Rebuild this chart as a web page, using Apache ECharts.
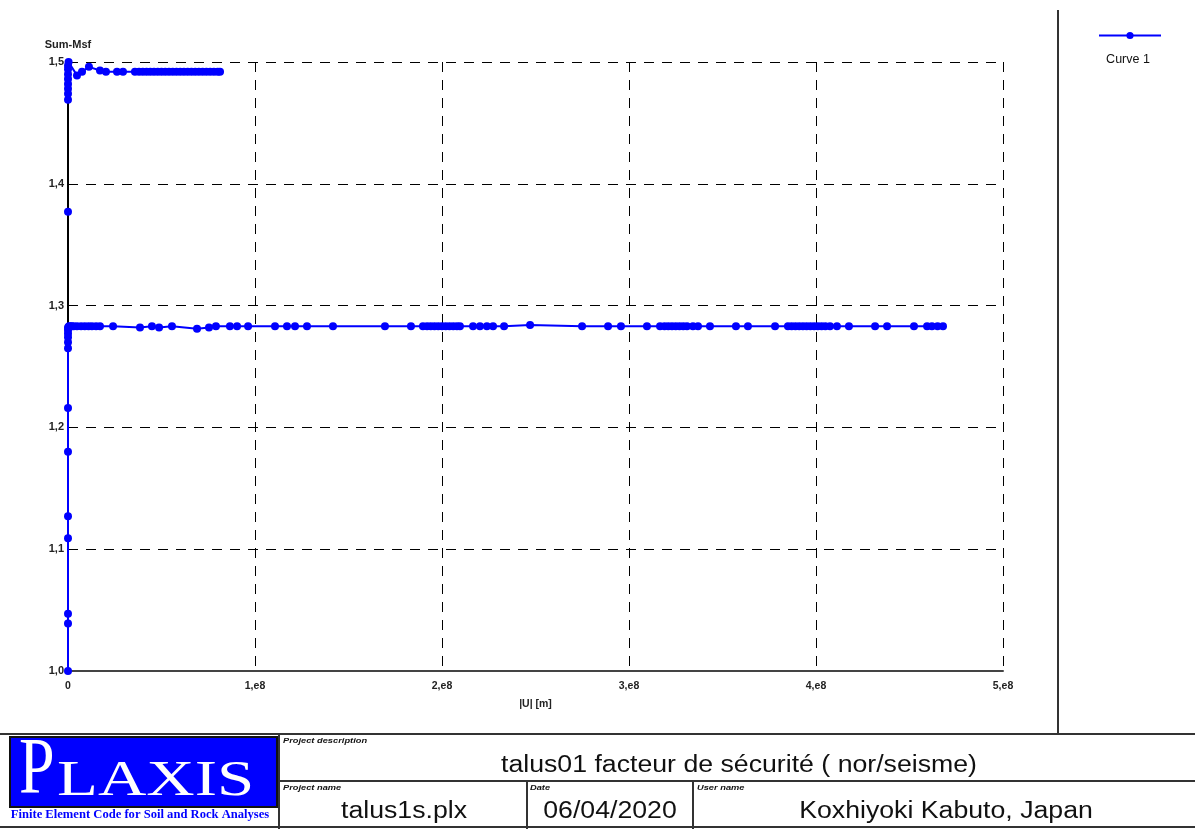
<!DOCTYPE html>
<html>
<head>
<meta charset="utf-8">
<script src="https://cdn.jsdelivr.net/npm/echarts@6/dist/echarts.min.js"></script>
<style>
  html, body { margin: 0; padding: 0; background: #fff; }
  #chart { width: 1195px; height: 829px; }
</style>
</head>
<body>
<div id="chart"></div>
<script>
// x in units of 1e8 m, y = Sum-Msf
const riseLow = [[0, 1.0], [0, 1.039], [0, 1.047], [0, 1.109], [0, 1.127], [0, 1.18], [0, 1.216],
  [0, 1.265], [0, 1.27], [0, 1.274], [0, 1.277], [0, 1.28], [0, 1.282]];
const plateauLow = [[0.005, 1.283], [0.012, 1.283], [0.02, 1.283], [0.03, 1.283], [0.048, 1.283],
  [0.07, 1.283], [0.09, 1.283], [0.11, 1.283], [0.128, 1.283], [0.15, 1.283], [0.171, 1.283],
  [0.241, 1.283], [0.385, 1.282], [0.449, 1.283], [0.487, 1.282], [0.556, 1.283], [0.69, 1.281],
  [0.754, 1.282], [0.791, 1.283], [0.866, 1.283], [0.904, 1.283], [0.963, 1.283], [1.107, 1.283],
  [1.171, 1.283], [1.214, 1.283], [1.278, 1.283], [1.417, 1.283], [1.695, 1.283], [1.834, 1.283],
  [1.898, 1.283], [1.92, 1.283], [1.94, 1.283], [1.96, 1.283], [1.98, 1.283], [2.0, 1.283],
  [2.02, 1.283], [2.04, 1.283], [2.06, 1.283], [2.08, 1.283], [2.096, 1.283], [2.166, 1.283],
  [2.203, 1.283], [2.24, 1.283], [2.273, 1.283], [2.332, 1.283], [2.471, 1.284], [2.749, 1.283],
  [2.888, 1.283], [2.957, 1.283], [3.096, 1.283], [3.166, 1.283], [3.19, 1.283], [3.21, 1.283],
  [3.23, 1.283], [3.25, 1.283], [3.27, 1.283], [3.29, 1.283], [3.31, 1.283], [3.342, 1.283],
  [3.369, 1.283], [3.433, 1.283], [3.572, 1.283], [3.636, 1.283], [3.781, 1.283], [3.85, 1.283],
  [3.87, 1.283], [3.89, 1.283], [3.91, 1.283], [3.93, 1.283], [3.95, 1.283], [3.97, 1.283],
  [3.99, 1.283], [4.01, 1.283], [4.03, 1.283], [4.05, 1.283], [4.075, 1.283], [4.112, 1.283],
  [4.176, 1.283], [4.316, 1.283], [4.38, 1.283], [4.524, 1.283], [4.594, 1.283], [4.62, 1.283],
  [4.65, 1.283], [4.679, 1.283]];
const loosePoint = [[0, 1.377]];
const riseHigh = [[0, 1.469], [0, 1.474], [0, 1.478], [0, 1.482], [0, 1.486], [0, 1.49],
  [0, 1.494], [0, 1.497], [0.003, 1.5]];
const plateauHigh = [[0.048, 1.489], [0.075, 1.492], [0.112, 1.496], [0.171, 1.493], [0.203, 1.492],
  [0.262, 1.492], [0.294, 1.492], [0.358, 1.492], [0.38, 1.492], [0.4, 1.492], [0.42, 1.492],
  [0.44, 1.492], [0.46, 1.492], [0.48, 1.492], [0.5, 1.492], [0.52, 1.492], [0.54, 1.492],
  [0.56, 1.492], [0.58, 1.492], [0.6, 1.492], [0.62, 1.492], [0.64, 1.492], [0.66, 1.492],
  [0.68, 1.492], [0.7, 1.492], [0.72, 1.492], [0.74, 1.492], [0.76, 1.492], [0.78, 1.492],
  [0.8, 1.492], [0.813, 1.492]];
const xTicks = ['0', '1,e8', '2,e8', '3,e8', '4,e8', '5,e8'];

const blue = '#0000ff';
const sans = 'Liberation Sans, Arial, sans-serif';
const serif = 'Liberation Serif, Times New Roman, serif';

const chart = echarts.init(document.getElementById('chart'));

function curve(data) {
  return {
    name: 'Curve 1',
    type: 'line',
    data: data.map(p => [p[0] * 1e8, p[1]]),
    symbol: 'circle',
    symbolSize: 8,
    showSymbol: true,
    connectNulls: false,
    lineStyle: { color: blue, width: 2 },
    itemStyle: { color: blue },
    animation: false
  };
}

// title block text, stretched horizontally like the plotted sheet
function stamp(text, x, y, size, align, extra) {
  return {
    type: 'text', x: x, y: y, scaleX: 1.16,
    style: Object.assign({ text: text, font: size + 'px ' + sans, fill: '#111', align: align, verticalAlign: 'middle' }, extra || {})
  };
}
function caption(text, x, y) {
  return stamp(text, x, y, 8, 'left', { font: 'italic bold 8px ' + sans });
}

const labelFont = { fontFamily: sans, fontWeight: 'bold', color: '#222' };

const option = {
  backgroundColor: '#fff',
  grid: { left: 68, right: 192, top: 62, bottom: 158 },
  legend: {
    data: ['Curve 1'],
    left: 1093, top: 26,
    itemWidth: 62, itemHeight: 9,
    formatter: () => '',
    selectedMode: false
  },
  xAxis: {
    type: 'value',
    min: 0, max: 5e8, interval: 1e8,
    name: '|U| [m]',
    nameLocation: 'middle',
    nameGap: 28,
    nameTextStyle: Object.assign({ fontSize: 10.5 }, labelFont),
    axisLine: { lineStyle: { color: '#444', width: 2 } },
    axisTick: { show: false },
    axisLabel: Object.assign({
      fontSize: 10.5, margin: 10,
      formatter: v => xTicks[Math.round(v / 1e8)]
    }, labelFont),
    splitLine: { lineStyle: { color: '#000', type: [10, 8], width: 1 } }
  },
  yAxis: {
    type: 'value',
    min: 1, max: 1.5, interval: 0.1,
    name: 'Sum-Msf',
    nameLocation: 'end',
    nameGap: 12,
    nameTextStyle: Object.assign({ fontSize: 11, align: 'center' }, labelFont),
    axisLine: { lineStyle: { color: '#000', width: 2 } },
    axisTick: { show: false },
    axisLabel: Object.assign({
      fontSize: 11, margin: 4,
      formatter: v => v.toFixed(1).replace('.', ',')
    }, labelFont),
    splitLine: { lineStyle: { color: '#000', type: [10, 8], width: 1 } }
  },
  series: [
    curve(riseLow.concat(plateauLow)),
    curve(loosePoint.concat([[0, '-']], riseHigh, plateauHigh))
  ],
  graphic: [
    { type: 'text', x: 1128, y: 60, style: { text: 'Curve 1', font: '12.5px ' + sans, fill: '#111', align: 'center', verticalAlign: 'middle' } },
    // frame lines
    { type: 'line', shape: { x1: 1058, y1: 10, x2: 1058, y2: 734 }, style: { stroke: '#333', lineWidth: 2 } },
    { type: 'line', shape: { x1: 0, y1: 734, x2: 1195, y2: 734 }, style: { stroke: '#333', lineWidth: 2 } },
    { type: 'line', shape: { x1: 279, y1: 734, x2: 279, y2: 829 }, style: { stroke: '#333', lineWidth: 2 } },
    { type: 'line', shape: { x1: 279, y1: 781, x2: 1195, y2: 781 }, style: { stroke: '#333', lineWidth: 2 } },
    { type: 'line', shape: { x1: 527, y1: 781, x2: 527, y2: 829 }, style: { stroke: '#333', lineWidth: 2 } },
    { type: 'line', shape: { x1: 693, y1: 781, x2: 693, y2: 829 }, style: { stroke: '#333', lineWidth: 2 } },
    { type: 'line', shape: { x1: 0, y1: 827, x2: 1195, y2: 827 }, style: { stroke: '#333', lineWidth: 2 } },
    // logo
    { type: 'rect', shape: { x: 10, y: 737, width: 267, height: 70 }, style: { fill: blue, stroke: '#111', lineWidth: 2 } },
    { type: 'text', x: 19, y: 799, scaleY: 1.24, style: { text: 'P', x: 0, y: -22, font: '64px ' + serif, fill: '#fff', verticalAlign: 'middle' } },
    { type: 'text', x: 57, y: 799, scaleX: 1.34, style: { text: 'LAXIS', x: 0, y: -17, font: '50px ' + serif, fill: '#fff', verticalAlign: 'middle' } },
    { type: 'text', x: 140, y: 815, style: { text: 'Finite Element Code for Soil and Rock Analyses', font: 'bold 12.6px ' + serif, fill: blue, align: 'center', verticalAlign: 'middle' } },
    // captions
    caption('Project description', 283, 741),
    caption('Project name', 283, 788),
    caption('Date', 530, 788),
    caption('User name', 697, 788),
    // values
    stamp('talus01 facteur de sécurité ( nor/seisme)', 739, 766, 23, 'center'),
    stamp('talus1s.plx', 404, 812, 23, 'center'),
    stamp('06/04/2020', 610, 812, 23, 'center'),
    stamp('Koxhiyoki Kabuto, Japan', 946, 812, 23, 'center')
  ]
};
chart.setOption(option);
</script>
</body>
</html>
